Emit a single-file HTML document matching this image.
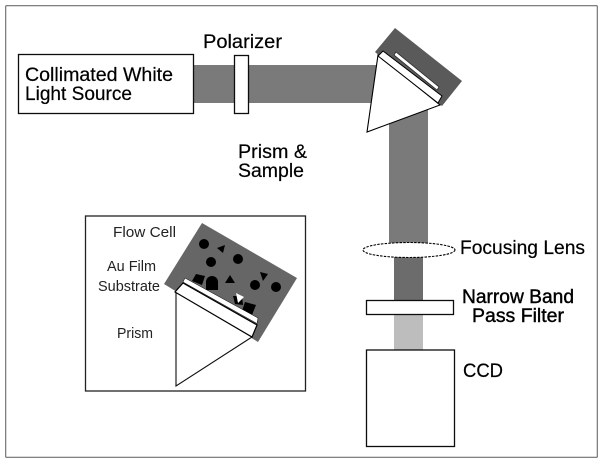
<!DOCTYPE html>
<html><head><meta charset="utf-8"><style>
html,body{margin:0;padding:0;background:#fff}
svg{display:block}
text{font-family:"Liberation Sans",sans-serif;fill:#000;stroke:#000;stroke-width:0.2}
.s{fill:#222;stroke:none}
</style></head><body>
<svg width="604" height="465" viewBox="0 0 604 465" xmlns="http://www.w3.org/2000/svg">
<defs><filter id="b" x="0" y="0" width="100%" height="100%"><feGaussianBlur stdDeviation="0.25"/></filter></defs>
<rect x="0" y="0" width="604" height="465" fill="#fff"/>
<g filter="url(#b)">
<rect x="5.5" y="5.5" width="592" height="452" fill="#fff" stroke="#000" stroke-width="1.3"/>
<!-- beams -->
<rect x="194" y="65" width="186" height="38" fill="#7a7a7a"/>
<rect x="389" y="100" width="39" height="145" fill="#7a7a7a"/>
<rect x="394" y="255" width="29" height="46" fill="#6c6c6c"/>
<rect x="394" y="314" width="29" height="37" fill="#bdbdbd"/>
<!-- source -->
<rect x="18.5" y="54.5" width="175" height="59" fill="#fff" stroke="#111" stroke-width="1.3"/>
<rect x="234.5" y="55.5" width="14" height="58" fill="#fff" stroke="#111" stroke-width="1.3"/>
<!-- main prism -->
<polygon points="395,28 462,81 442,106 375,52" fill="#5a5a5a"/>
<polygon points="378,55 440,105 367,132" fill="#fff" stroke="#000" stroke-width="1.1"/>
<polygon points="383,51 442,96 438,103 378,56" fill="#fff" stroke="#000" stroke-width="1"/>
<polygon points="396,52 439,87 437,90 394,55" fill="#fff" stroke="#222" stroke-width="0.7"/>
<!-- lens, filter, ccd -->
<ellipse cx="409" cy="250" rx="46" ry="7.5" fill="#fff" stroke="#000" stroke-width="1.1" stroke-dasharray="2.5 1.2"/>
<rect x="366.5" y="300.5" width="87" height="14" fill="#fff" stroke="#111" stroke-width="1.3"/>
<rect x="366.5" y="350" width="88" height="96.5" fill="#fff" stroke="#111" stroke-width="1.3"/>
<!-- inset -->
<rect x="85.5" y="216" width="220" height="175" fill="#fff" stroke="#222" stroke-width="1.3"/>
<polygon points="202,223 297,278 258,342 164,284" fill="#666"/>
<!-- particles -->
<g fill="#000">
<circle cx="204" cy="244" r="5"/>
<circle cx="211" cy="262" r="5"/>
<circle cx="238" cy="259" r="5"/>
<circle cx="255" cy="285" r="5"/>
<circle cx="276" cy="287" r="5"/>
<circle cx="212" cy="282" r="6"/>
<rect x="206" y="282" width="12" height="8"/>
<polygon points="196,274 205,276 202,285 192,281"/>
<polygon points="217,248 225,245 223,253"/>
<polygon points="230,275 225,283 235,283"/>
<polygon points="260,272 268,274 263,281"/>
<polygon points="233,296 242,296 243,305 235,304"/>
<polygon points="245,302 256,305 252,315 242,311"/>
</g>
<polygon points="236,293 244,297 238,303" fill="#fff"/>
<polygon points="176,292 252,337 176,386" fill="#fff" stroke="#111" stroke-width="1.1"/>
<polygon points="183,283 257,325 252,337 175,292" fill="#fff" stroke="#000" stroke-width="1.2"/>
<polygon points="185,278 258,318 257,323.5 183,282" fill="#fff" stroke="#000" stroke-width="0.5"/>
<!-- labels -->
<text x="203" y="48" font-size="19" textLength="79" lengthAdjust="spacingAndGlyphs">Polarizer</text>
<text x="25" y="81" font-size="19" textLength="148" lengthAdjust="spacingAndGlyphs">Collimated White</text>
<text x="25" y="100" font-size="19" textLength="107" lengthAdjust="spacingAndGlyphs">Light Source</text>
<text x="238" y="158" font-size="19" textLength="69" lengthAdjust="spacingAndGlyphs">Prism &amp;</text>
<text x="238" y="177" font-size="19" textLength="66" lengthAdjust="spacingAndGlyphs">Sample</text>
<text x="460" y="254" font-size="19" textLength="125" lengthAdjust="spacingAndGlyphs">Focusing Lens</text>
<text x="462" y="303" font-size="19" textLength="112" lengthAdjust="spacingAndGlyphs" style="stroke-width:0.4">Narrow Band</text>
<text x="472" y="322" font-size="19" textLength="92" lengthAdjust="spacingAndGlyphs" style="stroke-width:0.4">Pass Filter</text>
<text x="463" y="377" font-size="19" textLength="40" lengthAdjust="spacingAndGlyphs">CCD</text>
<text class="s" x="113" y="237" font-size="15" textLength="63" lengthAdjust="spacingAndGlyphs">Flow Cell</text>
<text class="s" x="107" y="271" font-size="15" textLength="49" lengthAdjust="spacingAndGlyphs">Au Film</text>
<text class="s" x="98" y="291" font-size="15" textLength="62" lengthAdjust="spacingAndGlyphs">Substrate</text>
<text class="s" x="117" y="338" font-size="15" textLength="36" lengthAdjust="spacingAndGlyphs">Prism</text>
</g>
</svg>
</body></html>
